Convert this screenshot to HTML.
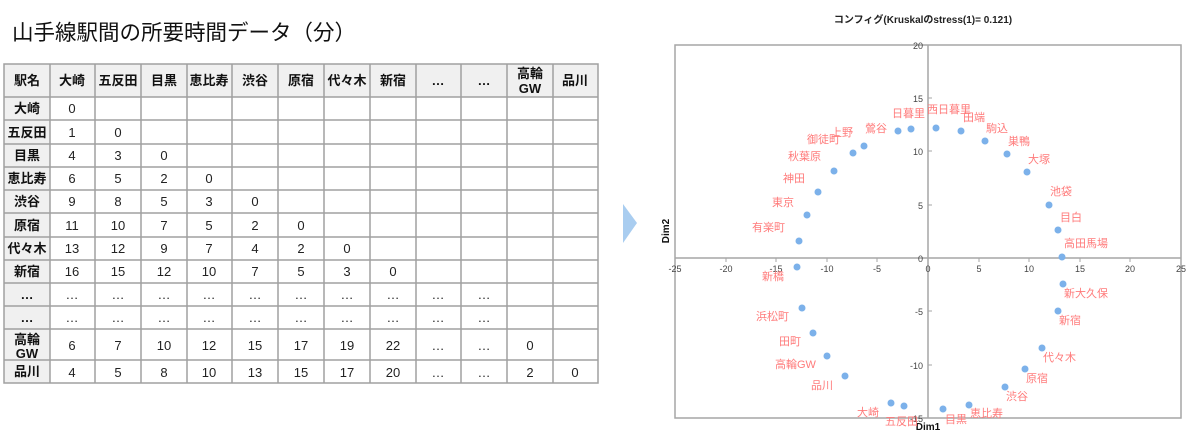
<!DOCTYPE html>
<html><head><meta charset="utf-8"><style>
html,body{margin:0;padding:0;background:#fff;}
svg{display:block;font-family:"Liberation Sans","Noto Sans CJK JP",sans-serif;}
</style></head><body>
<svg width="1200" height="448" viewBox="0 0 1200 448" xmlns="http://www.w3.org/2000/svg">
<text x="12" y="40" font-size="21.5" fill="#111">山手線駅間の所要時間データ（分）</text>
<rect x="4" y="64" width="594" height="33" fill="#f0f0f0"/>
<rect x="4" y="64" width="46" height="319" fill="#f0f0f0"/>
<g stroke="#a0a0a0" stroke-width="1.5" fill="none">
<rect x="4" y="64" width="594" height="319"/>
<path d="M50 64V383M95 64V383M141 64V383M187 64V383M232 64V383M278 64V383M324 64V383M370 64V383M416 64V383M461 64V383M507 64V383M553 64V383"/>
<path d="M4 97H598M4 120H598M4 144H598M4 167H598M4 190H598M4 213H598M4 237H598M4 260H598M4 283H598M4 306H598M4 329H598M4 360H598"/>
</g>
<g font-size="13" font-weight="bold" fill="#111" text-anchor="middle">
<text x="27" y="85">駅名</text><text x="72" y="85">大崎</text><text x="118" y="85">五反田</text><text x="164" y="85">目黒</text><text x="209" y="85">恵比寿</text><text x="255" y="85">渋谷</text><text x="301" y="85">原宿</text><text x="347" y="85">代々木</text><text x="393" y="85">新宿</text><text x="438" y="85">…</text><text x="484" y="85">…</text><text x="530" y="78">高輪</text><text x="530" y="93">GW</text><text x="575" y="85">品川</text>
<text x="27" y="113">大崎</text><text x="27" y="137">五反田</text><text x="27" y="160">目黒</text><text x="27" y="183">恵比寿</text><text x="27" y="206">渋谷</text><text x="27" y="230">原宿</text><text x="27" y="253">代々木</text><text x="27" y="276">新宿</text><text x="27" y="299">…</text><text x="27" y="322">…</text><text x="27" y="344">高輪</text><text x="27" y="358">GW</text><text x="27" y="376">品川</text>
</g>
<g font-size="13" fill="#222" text-anchor="middle">
<text x="72" y="113">0</text>
<text x="72" y="137">1</text><text x="118" y="137">0</text>
<text x="72" y="160">4</text><text x="118" y="160">3</text><text x="164" y="160">0</text>
<text x="72" y="183">6</text><text x="118" y="183">5</text><text x="164" y="183">2</text><text x="209" y="183">0</text>
<text x="72" y="206">9</text><text x="118" y="206">8</text><text x="164" y="206">5</text><text x="209" y="206">3</text><text x="255" y="206">0</text>
<text x="72" y="230">11</text><text x="118" y="230">10</text><text x="164" y="230">7</text><text x="209" y="230">5</text><text x="255" y="230">2</text><text x="301" y="230">0</text>
<text x="72" y="253">13</text><text x="118" y="253">12</text><text x="164" y="253">9</text><text x="209" y="253">7</text><text x="255" y="253">4</text><text x="301" y="253">2</text><text x="347" y="253">0</text>
<text x="72" y="276">16</text><text x="118" y="276">15</text><text x="164" y="276">12</text><text x="209" y="276">10</text><text x="255" y="276">7</text><text x="301" y="276">5</text><text x="347" y="276">3</text><text x="393" y="276">0</text>
<text x="72" y="299">…</text><text x="118" y="299">…</text><text x="164" y="299">…</text><text x="209" y="299">…</text><text x="255" y="299">…</text><text x="301" y="299">…</text><text x="347" y="299">…</text><text x="393" y="299">…</text><text x="438" y="299">…</text><text x="484" y="299">…</text>
<text x="72" y="322">…</text><text x="118" y="322">…</text><text x="164" y="322">…</text><text x="209" y="322">…</text><text x="255" y="322">…</text><text x="301" y="322">…</text><text x="347" y="322">…</text><text x="393" y="322">…</text><text x="438" y="322">…</text><text x="484" y="322">…</text>
<text x="72" y="350">6</text><text x="118" y="350">7</text><text x="164" y="350">10</text><text x="209" y="350">12</text><text x="255" y="350">15</text><text x="301" y="350">17</text><text x="347" y="350">19</text><text x="393" y="350">22</text><text x="438" y="350">…</text><text x="484" y="350">…</text><text x="530" y="350">0</text>
<text x="72" y="377">4</text><text x="118" y="377">5</text><text x="164" y="377">8</text><text x="209" y="377">10</text><text x="255" y="377">13</text><text x="301" y="377">15</text><text x="347" y="377">17</text><text x="393" y="377">20</text><text x="438" y="377">…</text><text x="484" y="377">…</text><text x="530" y="377">2</text><text x="575" y="377">0</text>
</g>
<polygon points="623,204 637,223 623,243" fill="#a9cdf0"/>
<text x="923" y="23" font-size="10" font-weight="bold" fill="#222" text-anchor="middle">コンフィグ(Kruskalのstress(1)= 0.121)</text>
<rect x="675" y="45" width="506" height="373" fill="none" stroke="#a6a6a6" stroke-width="1.5"/>
<g stroke="#a6a6a6" stroke-width="1.5">
<line x1="675" y1="258" x2="1181" y2="258"/>
<line x1="928" y1="45" x2="928" y2="418"/>
</g>
<g stroke="#a6a6a6" stroke-width="1">
<path d="M726 258v4M776 258v4M827 258v4M877 258v4M979 258v4M1029 258v4M1080 258v4M1130 258v4"/>
<path d="M928 98h4M928 151h4M928 205h4M928 311h4M928 365h4"/>
</g>
<g font-size="9" fill="#444" text-anchor="middle">
<text x="675" y="272">-25</text><text x="726" y="272">-20</text><text x="776" y="272">-15</text><text x="827" y="272">-10</text><text x="877" y="272">-5</text><text x="928" y="272">0</text><text x="979" y="272">5</text><text x="1029" y="272">10</text><text x="1080" y="272">15</text><text x="1130" y="272">20</text><text x="1181" y="272">25</text>
</g>
<g font-size="9" fill="#444" text-anchor="end">
<text x="923" y="49">20</text><text x="923" y="102">15</text><text x="923" y="155">10</text><text x="923" y="209">5</text><text x="923" y="262">0</text><text x="923" y="315">-5</text><text x="923" y="369">-10</text><text x="923" y="422">-15</text>
</g>
<text x="928" y="430" font-size="10" font-weight="bold" fill="#111" text-anchor="middle">Dim1</text>
<text transform="translate(669,231) rotate(-90)" font-size="10" font-weight="bold" fill="#111" text-anchor="middle">Dim2</text>
<g fill="#7cb1ea">
<circle cx="799" cy="241" r="3.5"/><circle cx="807" cy="215" r="3.5"/><circle cx="818" cy="192" r="3.5"/><circle cx="834" cy="171" r="3.5"/><circle cx="853" cy="153" r="3.5"/><circle cx="864" cy="146" r="3.5"/><circle cx="898" cy="131" r="3.5"/><circle cx="911" cy="129" r="3.5"/><circle cx="936" cy="128" r="3.5"/><circle cx="961" cy="131" r="3.5"/><circle cx="985" cy="141" r="3.5"/><circle cx="1007" cy="154" r="3.5"/><circle cx="1027" cy="172" r="3.5"/><circle cx="1049" cy="205" r="3.5"/><circle cx="1058" cy="230" r="3.5"/><circle cx="1062" cy="257" r="3.5"/><circle cx="1063" cy="284" r="3.5"/><circle cx="1058" cy="311" r="3.5"/><circle cx="1042" cy="348" r="3.5"/><circle cx="1025" cy="369" r="3.5"/><circle cx="1005" cy="387" r="3.5"/><circle cx="969" cy="405" r="3.5"/><circle cx="943" cy="409" r="3.5"/><circle cx="904" cy="406" r="3.5"/><circle cx="891" cy="403" r="3.5"/><circle cx="845" cy="376" r="3.5"/><circle cx="827" cy="356" r="3.5"/><circle cx="813" cy="333" r="3.5"/><circle cx="802" cy="308" r="3.5"/><circle cx="797" cy="267" r="3.5"/>
</g>
<g font-size="11" fill="#ff7b7b">
<text x="892" y="117">日暮里</text><text x="927" y="113">西日暮里</text><text x="963" y="121">田端</text><text x="986" y="132">駒込</text><text x="1008" y="145">巣鴨</text><text x="1028" y="163">大塚</text><text x="1050" y="195">池袋</text><text x="1060" y="221">目白</text><text x="1064" y="247">高田馬場</text><text x="1064" y="297">新大久保</text><text x="1059" y="324">新宿</text><text x="1043" y="361">代々木</text><text x="1026" y="382">原宿</text><text x="1006" y="400">渋谷</text><text x="970" y="417">恵比寿</text><text x="945" y="423">目黒</text><text x="885" y="425">五反田</text><text x="857" y="416">大崎</text><text x="811" y="389">品川</text><text x="775" y="368">高輪GW</text><text x="779" y="345">田町</text><text x="756" y="320">浜松町</text><text x="762" y="280">新橋</text><text x="752" y="231">有楽町</text><text x="772" y="206">東京</text><text x="783" y="182">神田</text><text x="788" y="160">秋葉原</text><text x="807" y="143">御徒町</text><text x="831" y="136">上野</text><text x="865" y="132">鶯谷</text>
</g>
</svg>
</body></html>
